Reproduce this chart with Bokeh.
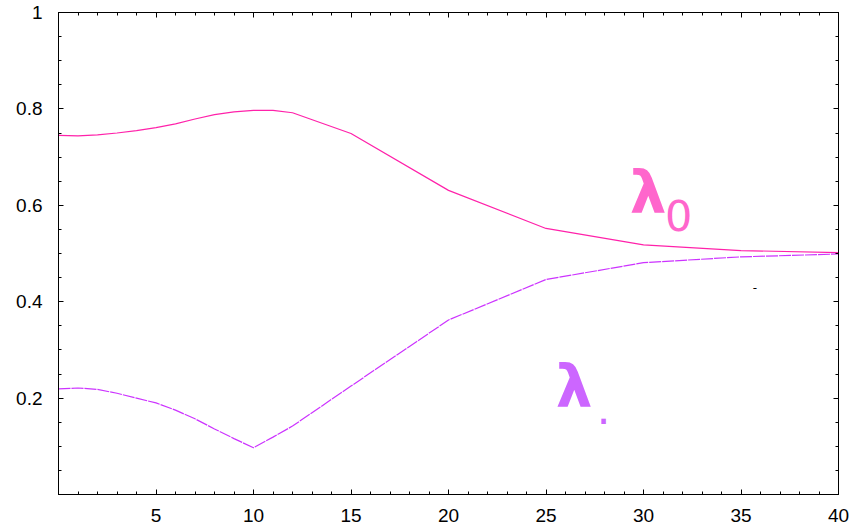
from bokeh.plotting import figure
from bokeh.models import LinearAxis, FixedTicker, Range1d, CustomJSTickFormatter
from bokeh.core.properties import value
from bokeh.embed import file_html
from bokeh.resources import INLINE

# data
x_vals = [0, 1, 2, 3, 4, 5, 6, 7, 8, 9, 10, 11, 12, 15, 20, 25, 30, 35, 40]
lambda0 = [0.745, 0.744, 0.746, 0.750, 0.755, 0.761, 0.769, 0.779, 0.788, 0.794,
           0.797, 0.797, 0.792, 0.749, 0.631, 0.552, 0.518, 0.506, 0.502]
lambda1 = [0.219, 0.221, 0.218, 0.210, 0.200, 0.190, 0.175, 0.157, 0.136, 0.116,
           0.097, 0.119, 0.142, 0.225, 0.362, 0.446, 0.481, 0.493, 0.499]

x_ticks = [5, 10, 15, 20, 25, 30, 35, 40]
x_minor = list(range(0, 41))
y_ticks = [0.2, 0.4, 0.6, 0.8, 1.0]
y_minor = [round(0.05 * i, 2) for i in range(0, 21)]
y_labels = {0.2: "0.2", 0.4: "0.4", 0.6: "0.6", 0.8: "0.8", 1.0: "1"}

FONT = "Liberation Sans"

p = figure(width=850, height=528, x_range=Range1d(0, 40), y_range=Range1d(0, 1),
           output_backend="svg", toolbar_location=None,
           min_border_left=58, min_border_right=12, min_border_top=12, min_border_bottom=34)
p.grid.visible = False
p.outline_line_color = "black"
p.background_fill_color = "white"
p.border_fill_color = "white"


def style(ax, labels=True):
    ax.axis_line_color = "black"
    ax.axis_line_width = 1
    ax.major_tick_in = 5
    ax.major_tick_out = 0
    ax.minor_tick_in = 3
    ax.minor_tick_out = 0
    ax.major_tick_line_color = "black"
    ax.minor_tick_line_color = "black"
    if labels:
        ax.major_label_text_font = FONT
        ax.major_label_text_font_size = "19px"
        ax.major_label_text_color = "black"
    else:
        ax.formatter = CustomJSTickFormatter(code="return ''")
        ax.major_label_standoff = 0


xa = p.xaxis[0]
xa.ticker = FixedTicker(ticks=x_ticks, minor_ticks=x_minor)
style(xa)
xa.major_label_standoff = 14

ya = p.yaxis[0]
ya.ticker = FixedTicker(ticks=y_ticks, minor_ticks=y_minor)
style(ya)
ya.major_label_standoff = 16
ya.major_label_overrides = y_labels

top = LinearAxis(ticker=FixedTicker(ticks=x_ticks, minor_ticks=x_minor))
style(top, labels=False)
p.add_layout(top, "above")
right = LinearAxis(ticker=FixedTicker(ticks=y_ticks, minor_ticks=y_minor))
style(right, labels=False)
p.add_layout(right, "right")

p.line(x_vals, lambda0, line_color="#ff22aa", line_width=1.2)
p.line(x_vals, lambda1, line_color="#cc33ff", line_width=1.2, line_dash="12 1")

# labels
p.text(x=[29.3], y=[0.626], text=["λ"], text_font=value("DejaVu Sans"),
       text_font_size="58px", text_font_style="bold", text_color="#ff66cc",
       text_baseline="alphabetic")
p.text(x=[31.1], y=[0.579], text=["0"], text_font=value("DejaVu Sans"),
       text_font_size="43px", text_color="#ff66cc", text_baseline="alphabetic")
p.text(x=[25.5], y=[0.223], text=["λ"], text_font=value("DejaVu Sans"),
       text_font_size="58px", text_font_style="bold", text_color="#cc66ff",
       text_baseline="alphabetic")
p.text(x=[27.6], y=[0.179], text=["."], text_font=value("DejaVu Sans"),
       text_font_size="43px", text_color="#cc66ff", text_baseline="alphabetic")
p.text(x=[35.6], y=[0.43], text=["-"], text_font=value("DejaVu Sans"),
       text_font_size="12px", text_color="black", text_baseline="middle")

open("out.html", "w").write(file_html(p, INLINE))
